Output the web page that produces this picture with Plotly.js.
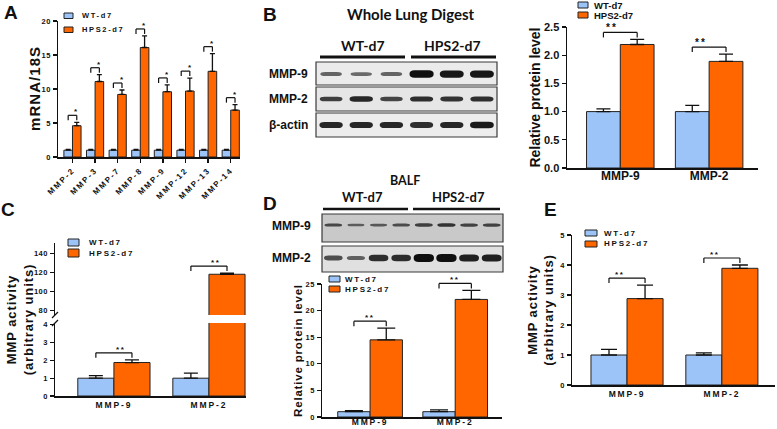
<!DOCTYPE html>
<html><head><meta charset="utf-8">
<script src="https://cdn.plot.ly/plotly-3.0.1.min.js"></script>
<style>
html,body{margin:0;padding:0;background:#fff}
#chart{width:777px;height:429px}
text[style*="sans-serif"]{letter-spacing:0.22em}
text[style*="Arial"]{letter-spacing:0.07em}
</style></head><body><div id="chart"></div>
<script>
// ---------------- DATA ----------------
const seriesNames = ['WT-d7', 'HPS2-d7'];
const seriesColors = ['#9cc4f8', '#ff6600'];

// Panel A: mRNA / 18S
const catsA = ['MMP-2', 'MMP-3', 'MMP-7', 'MMP-8', 'MMP-9', 'MMP-12', 'MMP-13', 'MMP-14'];
const wtA = [1, 1, 1, 1, 1, 1, 1, 1];
const wtErrA = [0.12, 0.12, 0.12, 0.12, 0.12, 0.12, 0.12, 0.12];
const hpsA = [4.6, 11.1, 9.2, 16.1, 9.6, 9.7, 12.6, 6.9];
const hpsErrA = [0.5, 1.0, 0.65, 1.7, 1.0, 1.9, 2.6, 0.8];
const sigA = ['*', '*', '*', '*', '*', '*', '*', '*'];

// Panels B-E categories
const catsProt = ['MMP-9', 'MMP-2'];

// Panel B: whole lung digest, relative protein level
const wtB = [1, 1];
const wtErrB = [0.05, 0.11];
const hpsB = [2.19, 1.89];
const hpsErrB = [0.09, 0.13];
const sigB = ['**', '**'];

// Panel C: MMP activity (broken axis)
const wtC = [1, 1];
const wtErrC = [0.14, 0.28];
const hpsC = [1.88, 118];
const hpsErrC = [0.15, 1.3];
const sigC = ['**', '**'];

// Panel D: BALF, relative protein level
const wtD = [1, 1];
const wtErrD = [0.2, 0.35];
const hpsD = [14.5, 22.1];
const hpsErrD = [2.2, 1.7];
const sigD = ['**', '**'];

// Panel E: MMP activity
const wtE = [1, 1];
const wtErrE = [0.19, 0.07];
const hpsE = [2.88, 3.89];
const hpsErrE = [0.45, 0.11];
const sigE = ['**', '**'];

// Western blot band intensities (0..1) per lane
const blotGroups = ['WT-d7', 'HPS2-d7'];
const blotB_MMP9 = [0.3, 0.25, 0.3, 1.0, 0.95, 0.95];
const blotB_MMP2 = [0.6, 0.8, 0.55, 0.75, 0.7, 0.75];
const blotB_actin = [0.8, 0.8, 0.8, 0.75, 0.8, 0.9];
const blotD_MMP9 = [0.45, 0.25, 0.3, 0.4, 0.55, 0.65, 0.5, 0.5];
const blotD_MMP2 = [0.45, 0.3, 0.75, 0.75, 1.0, 1.0, 0.85, 0.85];

// ---------------- HELPERS ----------------
const W = 777, H = 429;
const X = p => p / W;
const Y = p => 1 - p / H;
const F_PLAIN = 'Liberation Sans';
const F_WIDE = 'Liberation Sans, sans-serif';
const F_MED = 'Liberation Sans, Arial';
const F_HUM = 'Lato';
const INK = '#111';

function fnt(size, fam) { return {family: fam, size: size, color: INK, weight: 700}; }

const traces = [];
const shapes = [];
const annotations = [];

// panel geometry (pixels) shared by axes and bracket mapping
const G = {
  A: {xa: 'x', ya: 'y', l: 58, r: 240, b: 157, t: 21, xr: [-0.64, 7.41], yr: [0, 20]},
  B: {xa: 'x2', ya: 'y2', l: 567, r: 758, b: 168, t: 27, xr: [-0.6, 1.55], yr: [0, 2.5]},
  C: {xa: 'x3', ya: 'y3', l: 55, r: 246, b: 396, t: 323, xr: [-0.62, 1.39], yr: [0, 4.1]},
  Cu: {xa: 'x4', ya: 'y4', l: 55, r: 246, b: 315, t: 243, xr: [-0.62, 1.39], yr: [75, 151]},
  D: {xa: 'x5', ya: 'y5', l: 322, r: 502, b: 417, t: 284, xr: [-0.565, 1.55], yr: [0, 25]},
  E: {xa: 'x6', ya: 'y6', l: 572, r: 775, b: 385, t: 235, xr: [-0.58, 1.56], yr: [0, 5]}
};
const mapX = (g, v) => g.l + (v - g.xr[0]) / (g.xr[1] - g.xr[0]) * (g.r - g.l);
const mapY = (g, v) => g.b - (v - g.yr[0]) / (g.yr[1] - g.yr[0]) * (g.b - g.t);

function barPair(cats, wt, wtE, hps, hpsE, g, cap) {
  const vals = [[wt, wtE], [hps, hpsE]];
  vals.forEach((v, k) => {
    traces.push({
      type: 'bar', x: cats, y: v[0], name: seriesNames[k], xaxis: g.xa, yaxis: g.ya,
      marker: {color: seriesColors[k], line: {color: '#222', width: 1}},
      error_y: {type: 'data', symmetric: false, array: v[1], arrayminus: v[0].map(() => 0),
                color: INK, thickness: 1.3, width: cap},
      showlegend: false, hoverinfo: 'x+y'
    });
  });
}

// significance brackets, placed from the data (bar tops + error) through the panel mapping
function brackets(cats, wt, wtE, hps, hpsE, sig, g, gUp, half, fsize) {
  cats.forEach((c, i) => {
    const top = Math.max(wt[i] + wtE[i], hps[i] + hpsE[i]);
    const a = (gUp && top > g.yr[1]) ? gUp : g;
    const yb = mapY(a, top) - 7, yt = yb + 5;
    const xl = mapX(a, i - half), xr = mapX(a, i + half), xc = mapX(a, i);
    const ln = {color: INK, width: 1.2};
    const L = (x0, y0, x1, y1) => shapes.push({type: 'line', xref: 'paper', yref: 'paper',
      x0: X(x0), x1: X(x1), y0: Y(y0), y1: Y(y1), line: ln});
    L(xl, yb, xr, yb); L(xl, yb, xl, yt); L(xr, yb, xr, yt);
    annotations.push({xref: 'paper', yref: 'paper', x: X(xc), y: Y(yb), text: sig[i], showarrow: false,
      yanchor: 'bottom', yshift: -3, font: fnt(fsize, F_WIDE)});
  });
}

function legendManual(bx0, bx1, rows, tx, fsize, fam) {
  rows.forEach((r, k) => {
    shapes.push({type: 'rect', xref: 'paper', yref: 'paper', x0: X(bx0), x1: X(bx1),
      y0: Y(r[0]), y1: Y(r[1]), fillcolor: seriesColors[k], line: {color: '#222', width: 1}});
    annotations.push({xref: 'paper', yref: 'paper', x: X(tx), y: Y((r[0] + r[1]) / 2),
      xanchor: 'left', yanchor: 'middle', text: seriesNames[k], showarrow: false, font: fnt(fsize, fam)});
  });
}

function txt(x, y, s, size, fam, xa, angle) {
  annotations.push({xref: 'paper', yref: 'paper', x: X(x), y: Y(y), text: s, showarrow: false,
    xanchor: xa || 'center', yanchor: 'middle', textangle: angle || 0, font: fnt(size, fam)});
}
function hline(x0, x1, y, w) {
  shapes.push({type: 'line', xref: 'paper', yref: 'paper', x0: X(x0), x1: X(x1), y0: Y(y), y1: Y(y),
    line: {color: INK, width: w}});
}
function blotBox(x0, x1, y0, y1, fill) {
  shapes.push({type: 'rect', xref: 'paper', yref: 'paper', x0: X(x0), x1: X(x1), y0: Y(y0), y1: Y(y1),
    fillcolor: fill, line: {color: '#3a3a3a', width: 1.2}});
}
function bandPath(cx, cy, w, t) {
  const x0 = cx - w / 2, x1 = cx + w / 2, r = Math.min(5, w / 4);
  const ya = cy - t / 2, yb = cy + t / 2;
  const P = (x, y) => X(x) + ',' + Y(y);
  return 'M' + P(x0 + r, ya) + ' L' + P(x1 - r, ya) + ' Q' + P(x1, ya) + ' ' + P(x1, cy) +
    ' Q' + P(x1, yb) + ' ' + P(x1 - r, yb) + ' L' + P(x0 + r, yb) + ' Q' + P(x0, yb) + ' ' + P(x0, cy) +
    ' Q' + P(x0, ya) + ' ' + P(x0 + r, ya) + ' Z';
}
function bands(intens, x0, x1, cy, tmin, tmax, wfrac) {
  const lw = (x1 - x0) / intens.length;
  intens.forEach((v, i) => {
    const cx = x0 + (i + 0.5) * lw;
    const w = lw * wfrac * (0.85 + 0.15 * v);
    const t = tmin + (tmax - tmin) * v;
    shapes.push({type: 'path', xref: 'paper', yref: 'paper', path: bandPath(cx, cy, w, t),
      fillcolor: 'rgba(15,15,15,' + (0.45 + 0.55 * v).toFixed(2) + ')', line: {width: 0}});
  });
}

// ---------------- AXES ----------------
const base = {showline: true, linecolor: INK, linewidth: 1.5, showgrid: false, zeroline: false,
  ticks: 'outside', ticklen: 4, tickwidth: 1.3, tickcolor: INK, fixedrange: true};
function axX(g, font, extra) {
  return Object.assign({}, base, {type: 'category', domain: [X(g.l), X(g.r)], anchor: g.ya,
    range: g.xr, tickfont: font, ticks: ''}, extra || {});
}
function axY(g, font, extra) {
  return Object.assign({}, base, {domain: [Y(g.b), Y(g.t)], anchor: g.xa, range: g.yr,
    tickfont: font}, extra || {});
}
const TICKY = fnt(7.5, F_MED);

const layout = {
  width: W, height: H, margin: {l: 0, r: 0, t: 0, b: 0}, paper_bgcolor: '#fff', plot_bgcolor: 'rgba(0,0,0,0)',
  barmode: 'group', bargap: 0.24, bargroupgap: 0, showlegend: false,
  // A
  xaxis: axX(G.A, fnt(8, F_WIDE), {tickangle: -45, ticks: 'outside'}),
  yaxis: axY(G.A, TICKY, {dtick: 5}),
  // B
  xaxis2: axX(G.B, fnt(12, F_PLAIN), {ticklabelstandoff: -4}),
  yaxis2: axY(G.B, fnt(11, F_PLAIN), {dtick: 0.5, tickformat: '.1f',
    title: {text: 'Relative protein level', font: fnt(14, F_PLAIN), standoff: 0}}),
  // C lower
  xaxis3: axX(G.C, fnt(8.5, F_WIDE)),
  yaxis3: axY(G.C, TICKY, {tickvals: [0, 1, 2, 3, 4]}),
  // C upper
  xaxis4: Object.assign(axX(G.Cu, fnt(8.5, F_WIDE)), {visible: false}),
  yaxis4: axY(G.Cu, TICKY, {tickvals: [80, 100, 120, 140]}),
  // C title carrier spanning both segments
  yaxis7: {domain: [Y(396), Y(243)], anchor: 'x3', showline: false, showgrid: false, zeroline: false,
    showticklabels: false, ticks: '', range: [0, 1], fixedrange: true,
    title: {text: 'MMP activity<br>(arbitrary units)', font: fnt(13, F_MED), standoff: 17}},
  // D
  xaxis5: axX(G.D, fnt(8.5, F_WIDE), {ticklabelstandoff: -4}),
  yaxis5: axY(G.D, TICKY, {dtick: 5,
    title: {text: 'Relative protein level', font: fnt(11.5, F_MED), standoff: 0}}),
  // E
  xaxis6: axX(G.E, fnt(8.5, F_WIDE)),
  yaxis6: axY(G.E, TICKY, {dtick: 1,
    title: {text: 'MMP activity<br>(arbitrary units)', font: fnt(13, F_MED), standoff: 3}}),
  shapes: shapes, annotations: annotations
};

// ---------------- TRACES ----------------
barPair(catsA, wtA, wtErrA, hpsA, hpsErrA, G.A, 2.5);
barPair(catsProt, wtB, wtErrB, hpsB, hpsErrB, G.B, 7);
barPair(catsProt, wtC, wtErrC, hpsC, hpsErrC, G.C, 7);
barPair(catsProt, wtC, wtErrC, hpsC, hpsErrC, G.Cu, 7);
barPair(catsProt, wtD, wtErrD, hpsD, hpsErrD, G.D, 9);
barPair(catsProt, wtE, wtErrE, hpsE, hpsErrE, G.E, 8);
// invisible carrier so the full-height C title axis is drawn
traces.push({type: 'scatter', mode: 'markers', x: [catsProt[0]], y: [null], xaxis: 'x3', yaxis: 'y7',
  showlegend: false, hoverinfo: 'skip', marker: {opacity: 0}});

brackets(catsA, wtA, wtErrA, hpsA, hpsErrA, sigA, G.A, null, 0.19, 8);
brackets(catsProt, wtB, wtErrB, hpsB, hpsErrB, sigB, G.B, null, 0.19, 10);
brackets(catsProt, wtC, wtErrC, hpsC, hpsErrC, sigC, G.C, G.Cu, 0.19, 8);
brackets(catsProt, wtD, wtErrD, hpsD, hpsErrD, sigD, G.D, null, 0.19, 8);
brackets(catsProt, wtE, wtErrE, hpsE, hpsErrE, sigE, G.E, null, 0.19, 8);

// axis break marks for C
shapes.push({type: 'line', xref: 'paper', yref: 'paper', x0: X(52), x1: X(58), y0: Y(318), y1: Y(312), line: {color: INK, width: 1.3}});
shapes.push({type: 'line', xref: 'paper', yref: 'paper', x0: X(52), x1: X(58), y0: Y(326), y1: Y(320), line: {color: INK, width: 1.3}});

// y-axis title for panel A
txt(35, 89, 'mRNA/18S', 15, F_MED, 'center', -90);

// legends
legendManual(64, 73, [[13, 18.5], [27, 32.5]], 80, 7.5, F_WIDE);
legendManual(578, 588, [[2, 8], [12, 18]], 592, 9.5, F_PLAIN);
legendManual(68, 79, [[239, 246], [249, 257]], 87, 8, F_WIDE);
legendManual(329, 340, [[276, 282], [286, 292]], 343, 8, F_WIDE);
legendManual(585, 597, [[230, 236], [241, 247]], 602, 8, F_WIDE);

// panel letters
txt(11, 13, 'A', 19, F_PLAIN); txt(270, 14, 'B', 19, F_PLAIN); txt(8, 209, 'C', 19, F_PLAIN);
txt(270, 203, 'D', 19, F_PLAIN); txt(550, 209, 'E', 19, F_PLAIN);

// Blot B
txt(411, 14, 'Whole Lung Digest', 15, F_HUM);
txt(363, 45, blotGroups[0], 14, F_HUM); txt(453, 45, blotGroups[1], 14, F_HUM);
hline(320, 405, 57, 3); hline(411, 496, 57, 3);
blotBox(316, 497, 62, 85, '#ebebeb'); blotBox(316, 497, 87, 111, '#e6e6e6'); blotBox(316, 497, 113, 137, '#ededed');
bands(blotB_MMP9, 316, 497, 74, 2.5, 7.5, 0.8);
bands(blotB_MMP2, 316, 497, 99, 2.5, 6, 0.8);
bands(blotB_actin, 316, 497, 125, 3, 7, 0.8);
txt(310, 74, 'MMP-9', 12, F_PLAIN, 'right'); txt(310, 99, 'MMP-2', 12, F_PLAIN, 'right'); txt(310, 125, '\u03b2-actin', 12, F_PLAIN, 'right');

// Blot D
txt(405, 180, 'BALF', 12.5, F_HUM);
txt(362, 197, blotGroups[0], 13, F_HUM); txt(458, 197, blotGroups[1], 13, F_HUM);
hline(323, 408, 209, 2.5); hline(413, 500, 209, 2.5);
blotBox(322, 503, 214, 242, '#c9c9c9'); blotBox(322, 503, 246, 272, '#e0e0e0');
bands(blotD_MMP9, 322, 503, 225, 2, 4.5, 0.85);
bands(blotD_MMP2, 322, 503, 258, 2.5, 8, 0.9);
txt(313, 226, 'MMP-9', 12, F_PLAIN, 'right'); txt(313, 258, 'MMP-2', 12, F_PLAIN, 'right');

Plotly.newPlot('chart', traces, layout, {staticPlot: true, displayModeBar: false});
</script></body></html>
